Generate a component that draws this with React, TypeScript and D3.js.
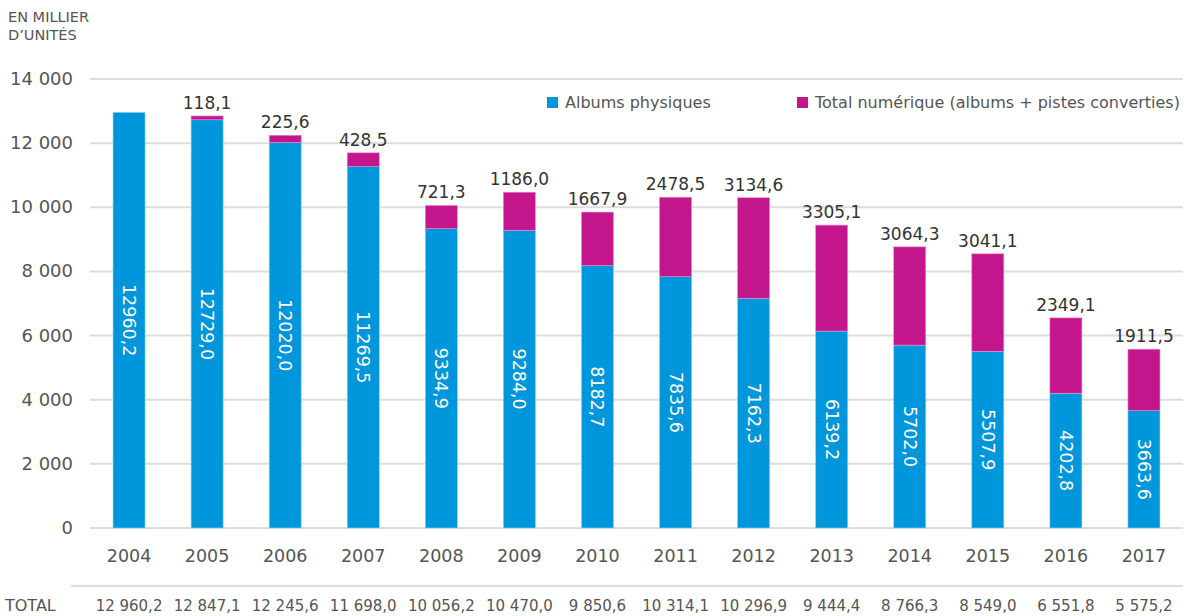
import React from "react";
import * as d3 from "d3";

const years = ["2004","2005","2006","2007","2008","2009","2010","2011","2012","2013","2014","2015","2016","2017"];
const physical = [12960.2,12729.0,12020.0,11269.5,9334.9,9284.0,8182.7,7835.6,7162.3,6139.2,5702.0,5507.9,4202.8,3663.6];
const digital = [0,118.1,225.6,428.5,721.3,1186.0,1667.9,2478.5,3134.6,3305.1,3064.3,3041.1,2349.1,1911.5];
const totals = [12960.2,12847.1,12245.6,11698.0,10056.2,10470.0,9850.6,10314.1,10296.9,9444.4,8766.3,8549.0,6551.8,5575.2];
const yTicks = [0,2000,4000,6000,8000,10000,12000,14000];
const seriesNames = ["Albums physiques","Total numérique (albums + pistes converties)"];

const BLUE = "#0096DB";
const MAGENTA = "#C4168C";
const GREY = "#555";
const FONT = "'DejaVu Sans', 'Open Sans', sans-serif";

const fmtDec = (v: number) => v.toFixed(1).replace(".", ",");
const fmtThousands = (v: number) => {
  const s = v.toFixed(1);
  const [int, dec] = s.split(".");
  const withSp = int.replace(/\B(?=(\d{3})+(?!\d))/g, " ");
  return withSp + "," + dec;
};
const fmtTick = (v: number) => String(v).replace(/\B(?=(\d{3})+(?!\d))/g, " ");

export default function App() {
  const W = 1194, H = 616;
  const x = d3.scaleBand<string>().domain(years).range([90, 1183]).paddingInner(0.59).paddingOuter(0.295);
  const y = d3.scaleLinear().domain([0, 14000]).range([528, 79]);
  const bw = x.bandwidth();

  return (
    <svg width={W} height={H} style={{ position: "absolute", left: 0, top: 0, fontFamily: FONT }}>
      <rect width={W} height={H} fill="#fff" />
      <text x={8} y={22} fontSize={14.5} fill={GREY}>EN MILLIER</text>
      <text x={8} y={40} fontSize={14.5} fill={GREY}>D’UNITÉS</text>

      {yTicks.map((t) => (
        <g key={t}>
          <line x1={90} x2={1183} y1={y(t)} y2={y(t)} stroke="#dddddd" strokeWidth={2} />
          <text x={73} y={y(t) + 6} textAnchor="end" fontSize={18} fill={GREY}>{fmtTick(t)}</text>
        </g>
      ))}

      {years.map((yr, i) => {
        const x0 = x(yr)!;
        const cx = x0 + bw / 2;
        const pTop = y(physical[i]);
        const dTop = y(physical[i] + digital[i]);
        const mid = (pTop + y(0)) / 2;
        return (
          <g key={yr}>
            <rect x={x0} y={pTop} width={bw} height={y(0) - pTop} fill={BLUE} stroke="#8fd0f0" strokeWidth={0.6} />
            {digital[i] > 0 && (
              <rect x={x0} y={dTop} width={bw} height={pTop - dTop} fill={MAGENTA} stroke="#e58cc8" strokeWidth={0.6} />
            )}
            <text
              transform={`translate(${cx},${mid}) rotate(90)`}
              textAnchor="middle"
              dominantBaseline="central"
              fontSize={17.5}
              fill="#fff"
            >
              {fmtDec(physical[i])}
            </text>
            {digital[i] > 0 && (
              <text x={cx} y={dTop - 7} textAnchor="middle" fontSize={17} fill="#333">
                {fmtDec(digital[i])}
              </text>
            )}
            <text x={cx} y={562} textAnchor="middle" fontSize={17.5} fill={GREY}>{yr}</text>
            <text x={cx} y={611} textAnchor="middle" fontSize={15} fill={GREY}>{fmtThousands(totals[i])}</text>
          </g>
        );
      })}

      <line x1={71} x2={1183} y1={586} y2={586} stroke="#dddddd" strokeWidth={2} />
      <text x={5} y={611} fontSize={16} fill={GREY}>TOTAL</text>

      <rect x={547} y={97} width={11} height={11} fill={BLUE} />
      <text x={565} y={108} fontSize={16} fill={GREY}>{seriesNames[0]}</text>
      <rect x={797} y={97} width={11} height={11} fill={MAGENTA} />
      <text x={815} y={108} fontSize={16} fill={GREY}>{seriesNames[1]}</text>
    </svg>
  );
}
